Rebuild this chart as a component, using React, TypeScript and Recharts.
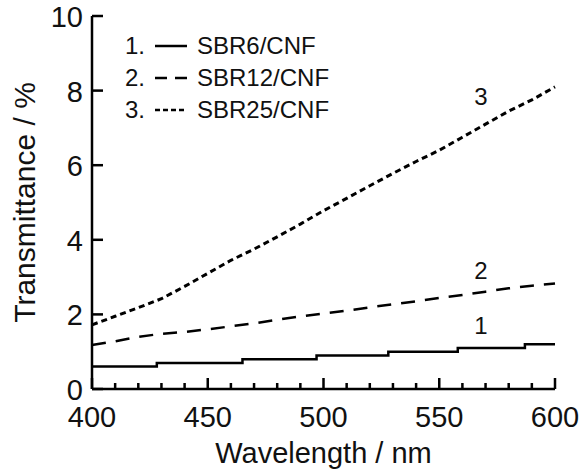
import { LineChart, Line, XAxis, YAxis, ReferenceDot } from 'recharts';

// wavelength grid (nm) for the dashed and dotted curves
const WAVELENGTH = [400, 410, 420, 430, 440, 450, 460, 470, 480, 490, 500, 510, 520, 530, 540, 550, 560, 570, 580, 590, 600];
const SBR12 = [1.18, 1.28, 1.4, 1.48, 1.53, 1.6, 1.68, 1.76, 1.86, 1.95, 2.02, 2.1, 2.19, 2.27, 2.35, 2.44, 2.52, 2.61, 2.7, 2.77, 2.83];
const SBR25 = [1.72, 1.95, 2.18, 2.42, 2.75, 3.1, 3.45, 3.75, 4.08, 4.42, 4.78, 5.11, 5.45, 5.78, 6.1, 6.4, 6.75, 7.1, 7.45, 7.75, 8.1];

// SBR6 is stepped (0.1 % resolution)
const SBR6_WL = [400, 428, 465, 497, 528, 558, 587, 600];
const SBR6 = [0.6, 0.7, 0.8, 0.9, 1.0, 1.1, 1.2, 1.2];

const X_TICKS = [400, 410, 420, 430, 440, 450, 460, 470, 480, 490, 500, 510, 520, 530, 540, 550, 560, 570, 580, 590, 600];
const Y_TICKS = [0, 2, 4, 6, 8, 10];

const LEGEND = [
  { num: '1.', name: 'SBR6/CNF', dash: undefined },
  { num: '2.', name: 'SBR12/CNF', dash: '12 8' },
  { num: '3.', name: 'SBR25/CNF', dash: '5 3' },
];

const FONT = '"Liberation Sans", Arial, sans-serif';
const AXIS = { stroke: '#000', strokeWidth: 2.5 };

// plot box edges, fixed by the chart size and margins below
const W = 584;
const H = 469;
const LEFT = 92;
const BOTTOM = H - 80;

const curveData = WAVELENGTH.map((wl, i) => ({ wl, sbr12: SBR12[i], sbr25: SBR25[i] }));
const stepData = SBR6_WL.map((wl, i) => ({ wl, sbr6: SBR6[i] }));

// inward tick marks drawn with the label (recharts only draws them outward)
function XTick({ x, payload }: any) {
  const major = payload.value % 50 === 0;
  const len = major ? 11 : 6;
  return (
    <g>
      <rect x={x - 1.25} y={BOTTOM - len} width={2.5} height={len} fill="#000" />
      {major && (
        <text x={x} y={BOTTOM + 38} textAnchor="middle" fontSize={29} fontFamily={FONT} fill="#111">
          {payload.value}
        </text>
      )}
    </g>
  );
}

function YTick({ y, payload }: any) {
  return (
    <g>
      <rect x={LEFT} y={y - 1.25} width={11} height={2.5} fill="#000" />
      <text x={LEFT - 9} y={y + 11} textAnchor="end" fontSize={29} fontFamily={FONT} fill="#111">
        {payload.value}
      </text>
    </g>
  );
}

export default function App() {
  return (
    <div style={{ position: 'absolute', left: 0, top: 0, width: W, height: H, fontFamily: FONT }}>
      <LineChart width={W} height={H} data={curveData} margin={{ top: 16, right: 29, left: 0, bottom: 0 }}>
        <XAxis
          dataKey="wl"
          type="number"
          domain={[400, 600]}
          ticks={X_TICKS}
          interval={0}
          height={80}
          tick={<XTick />}
          tickLine={false}
          axisLine={AXIS}
          label={{
            content: ({ viewBox }: any) => (
              <text x={viewBox.x + viewBox.width / 2} y={BOTTOM + 74} textAnchor="middle" fontSize={29} fontFamily={FONT} fill="#111">
                Wavelength / nm
              </text>
            ),
          }}
        />
        <XAxis xAxisId="top" orientation="top" type="number" domain={[400, 600]} height={0} tick={false} tickLine={false} axisLine={AXIS} />
        <YAxis
          type="number"
          domain={[0, 10]}
          ticks={Y_TICKS}
          interval={0}
          width={LEFT}
          tick={<YTick />}
          tickLine={false}
          axisLine={AXIS}
          label={{
            content: ({ viewBox }: any) => {
              const cy = viewBox.y + viewBox.height / 2;
              return (
                <text x={35} y={cy} transform={`rotate(-90 35 ${cy})`} textAnchor="middle" fontSize={30} fontFamily={FONT} fill="#111">
                  Transmittance / %
                </text>
              );
            },
          }}
        />
        <YAxis yAxisId="right" orientation="right" type="number" domain={[0, 10]} width={0} tick={false} tickLine={false} axisLine={AXIS} />
        <Line
          data={stepData}
          dataKey="sbr6"
          type="stepAfter"
          stroke="#000"
          strokeWidth={2.5}
          dot={false}
          isAnimationActive={false}
        />
        <Line
          dataKey="sbr12"
          type="linear"
          stroke="#000"
          strokeWidth={2.5}
          strokeDasharray="14 10"
          dot={false}
          isAnimationActive={false}
        />
        <Line
          dataKey="sbr25"
          type="linear"
          stroke="#000"
          strokeWidth={3}
          strokeDasharray="6 4"
          dot={false}
          isAnimationActive={false}
        />
        <ReferenceDot x={568} y={7.83} r={0} fill="none" stroke="none" label={{ value: '3', position: 'center', fontSize: 24, fill: '#111', fontFamily: FONT }} />
        <ReferenceDot x={568} y={3.19} r={0} fill="none" stroke="none" label={{ value: '2', position: 'center', fontSize: 24, fill: '#111', fontFamily: FONT }} />
        <ReferenceDot x={568} y={1.69} r={0} fill="none" stroke="none" label={{ value: '1', position: 'center', fontSize: 24, fill: '#111', fontFamily: FONT }} />
      </LineChart>
      <div style={{ position: 'absolute', left: 125, top: 30, fontSize: 24, lineHeight: '32px', color: '#111' }}>
        {LEGEND.map((item) => (
          <div key={item.name} style={{ display: 'flex', alignItems: 'center', height: 32 }}>
            <span style={{ width: 30 }}>{item.num}</span>
            <svg width={32} height={10} style={{ marginRight: 10 }}>
              <line x1={0} x2={32} y1={5} y2={5} stroke="#000" strokeWidth={2.5} strokeDasharray={item.dash} />
            </svg>
            <span>{item.name}</span>
          </div>
        ))}
      </div>
    </div>
  );
}
